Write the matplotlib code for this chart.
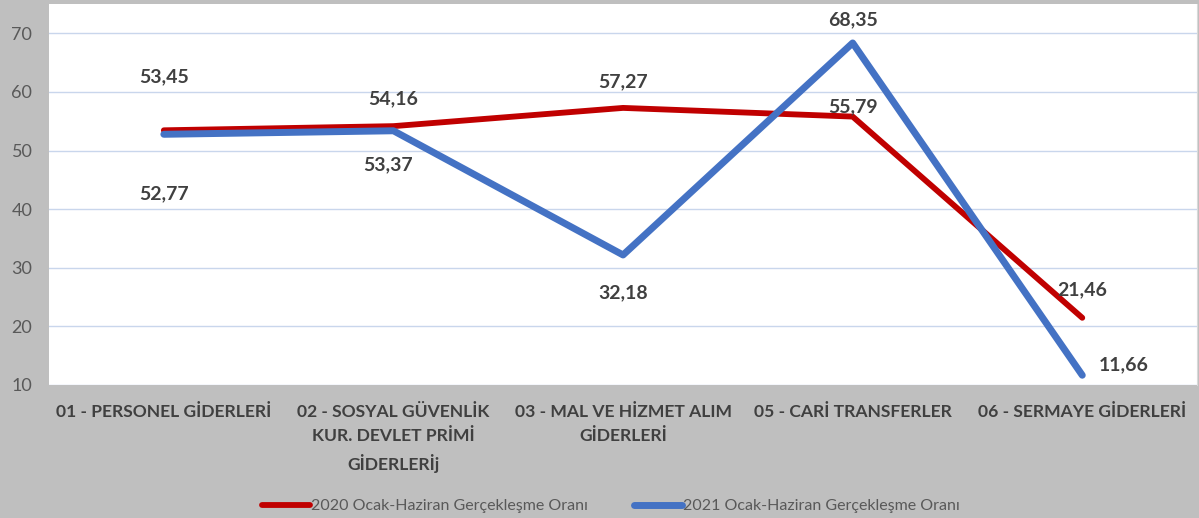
import numpy as np
import matplotlib.pyplot as plt

plt.rcParams['font.family'] = ['Lato', 'DejaVu Sans']

categories = ['01 - PERSONEL GİDERLERİ',
              '02 - SOSYAL GÜVENLİK\nKUR. DEVLET PRİMİ\nGİDERLERİj',
              '03 - MAL VE HİZMET ALIM\nGİDERLERİ',
              '05 - CARİ TRANSFERLER',
              '06 - SERMAYE GİDERLERİ']
vals_2020 = [53.45, 54.16, 57.27, 55.79, 21.46]
vals_2021 = [52.77, 53.37, 32.18, 68.35, 11.66]
label_2020 = '2020 Ocak-Haziran Gerçekleşme Oranı'
label_2021 = '2021 Ocak-Haziran Gerçekleşme Oranı'

# label offsets in pixels (dx, dy)
offs_2020 = [(0, 54), (0, 27), (0, 26), (0, 10), (0, 28)]
offs_2021 = [(0, -59), (-5, -34), (0, -38), (0, 23), (41, 10)]

red = '#C00000'
blue = '#4472C4'
bg = '#BFBFBF'
txt = '#404040'

fig = plt.figure(figsize=(11.99, 5.18), dpi=100, facecolor=bg)
ax = fig.add_axes([0.0409, 0.2568, 0.9575, 0.7355])
ax.set_facecolor('white')

x = np.arange(len(categories))
ax.plot(x, vals_2020, color=red, lw=4.2, solid_capstyle='round', label=label_2020, zorder=3)
ax.plot(x, vals_2021, color=blue, lw=5, solid_capstyle='round', label=label_2021, zorder=4)

def fmt(v):
    return '{:.2f}'.format(v).replace('.', ',')

for xi, v, o in zip(x, vals_2020, offs_2020):
    ax.annotate(fmt(v), (xi, v), xytext=o, textcoords='offset pixels',
                ha='center', va='center', fontsize=14, fontweight='bold',
                color=txt, zorder=6)
for xi, v, o in zip(x, vals_2021, offs_2021):
    ax.annotate(fmt(v), (xi, v), xytext=o, textcoords='offset pixels',
                ha='center', va='center', fontsize=14, fontweight='bold',
                color=txt, zorder=6)

ax.set_xlim(-0.5, len(categories) - 0.5)
ax.set_ylim(10, 75)
ax.set_yticks(np.arange(10, 71, 10))
ax.grid(axis='y', color='#C9D6EC', lw=1, zorder=0)
ax.set_axisbelow(True)

ax.set_xticks(x)
ax.set_xticklabels(categories, fontsize=12.6, fontweight='bold', color=txt,
                   linespacing=1.6)
ax.tick_params(axis='x', length=0, pad=14)
ax.tick_params(axis='y', length=0, pad=12, labelsize=13, labelcolor='#595959')

for s in ['left', 'top', 'bottom']:
    ax.spines[s].set_visible(False)
ax.spines['right'].set_color('#D9D9D9')

fig.legend(loc='center', ncol=2, frameon=False, bbox_to_anchor=(611 / 1199, 1 - 506 / 518),
           fontsize=11.5, labelcolor='#595959', handlelength=3.0, handletextpad=0.05,
           columnspacing=2.9)

fig.savefig('out.png', dpi=100, facecolor=bg)
